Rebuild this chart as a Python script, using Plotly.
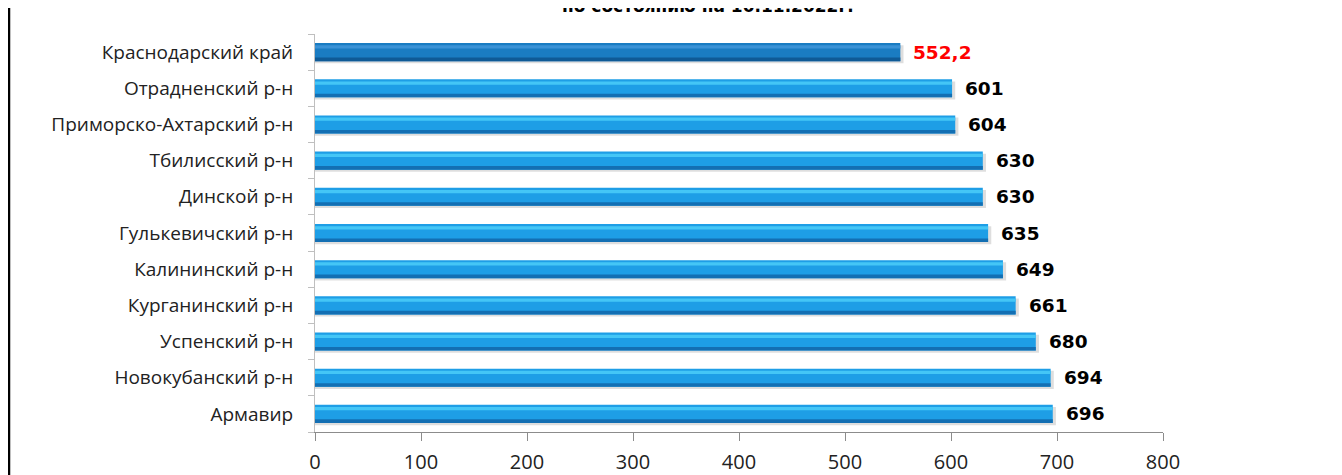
import plotly.graph_objects as go

# Data (top to bottom as shown)
categories = ["Краснодарский край", "Отрадненский р-н", "Приморско-Ахтарский р-н",
              "Тбилисский р-н", "Динской р-н", "Гулькевичский р-н", "Калининский р-н",
              "Курганинский р-н", "Успенский р-н", "Новокубанский р-н", "Армавир"]
values = [552.2, 601, 604, 630, 630, 635, 649, 661, 680, 694, 696]
value_labels = ["552,2", "601", "604", "630", "630", "635", "649", "661", "680", "694", "696"]
label_colors = ["#FF0000"] + ["#000000"] * 10
x_ticks = [0, 100, 200, 300, 400, 500, 600, 700, 800]
title_text = "по состоянию на 10.11.2022г."

main_colors = ["#1A7CC2"] + ["#1E9EE6"] * 10
dark_colors = ["#0F5A96"] + ["#136FB3"] * 10
light_colors = ["#3A92D6"] + ["#44C6F6"] * 10

L, T, B, R = 307, 26, 51, 187
PW = 848

fig = go.Figure()
# shadow
fig.add_trace(go.Bar(y=categories, x=[v + 3 for v in values], orientation="h",
                     width=0.5, offset=-0.31, marker=dict(color="rgba(0,0,0,0.13)", line_width=0),
                     hoverinfo="skip", showlegend=False))
# main body
fig.add_trace(go.Bar(y=categories, x=values, orientation="h", width=0.5, offset=-0.25,
                     marker=dict(color=main_colors, line_width=0), showlegend=False))
# dark bottom band
fig.add_trace(go.Bar(y=categories, x=values, orientation="h", width=0.1, offset=-0.25,
                     marker=dict(color=dark_colors, line_width=0), hoverinfo="skip", showlegend=False))
# light top highlight
fig.add_trace(go.Bar(y=categories, x=values, orientation="h", width=0.09, offset=0.1,
                     marker=dict(color=light_colors, line_width=0), hoverinfo="skip", showlegend=False))

for c, v, t, col in zip(categories, values, value_labels, label_colors):
    fig.add_annotation(x=v, y=c, text=t, showarrow=False, xanchor="left", yanchor="middle",
                       xshift=11, font=dict(family="DejaVu Sans", size=18.5, color=col, weight="bold"))

fig.add_annotation(xref="paper", yref="paper", x=(700 - L) / PW, y=1, yanchor="bottom",
                   xanchor="center", yshift=16, text="<b>" + title_text + "</b>", showarrow=False,
                   font=dict(family="DejaVu Sans", size=17, color="#000000"))

fig.add_shape(type="line", xref="paper", yref="paper", x0=(1 - L) / PW, x1=(1 - L) / PW,
              y0=-0.3, y1=1.3, line=dict(color="#000000", width=2.5))

fig.update_layout(
    width=1342, height=475,
    margin=dict(l=L, r=R, t=T, b=B, autoexpand=False),
    paper_bgcolor="white", plot_bgcolor="white",
    barmode="overlay",
    xaxis=dict(range=[0, 800], tickvals=x_ticks, showgrid=False, zeroline=False,
               showline=True, linecolor="#8C8C8C", linewidth=1, ticks="outside", ticklen=8,
               tickcolor="#8C8C8C", ticklabelstandoff=4, automargin=False,
               tickfont=dict(family="Open Sans", size=20, color="#222222"),
               fixedrange=True),
    yaxis=dict(categoryorder="array", categoryarray=categories[::-1], showgrid=False,
               showline=True, linecolor="#BFBFBF", linewidth=1, ticks="outside", ticklen=6,
               tickcolor="#BFBFBF", tickson="boundaries", ticklabelstandoff=17, automargin=False,
               tickfont=dict(family="Open Sans", size=19, color="#222222"), fixedrange=True),
)

fig.write_html("out.html")
